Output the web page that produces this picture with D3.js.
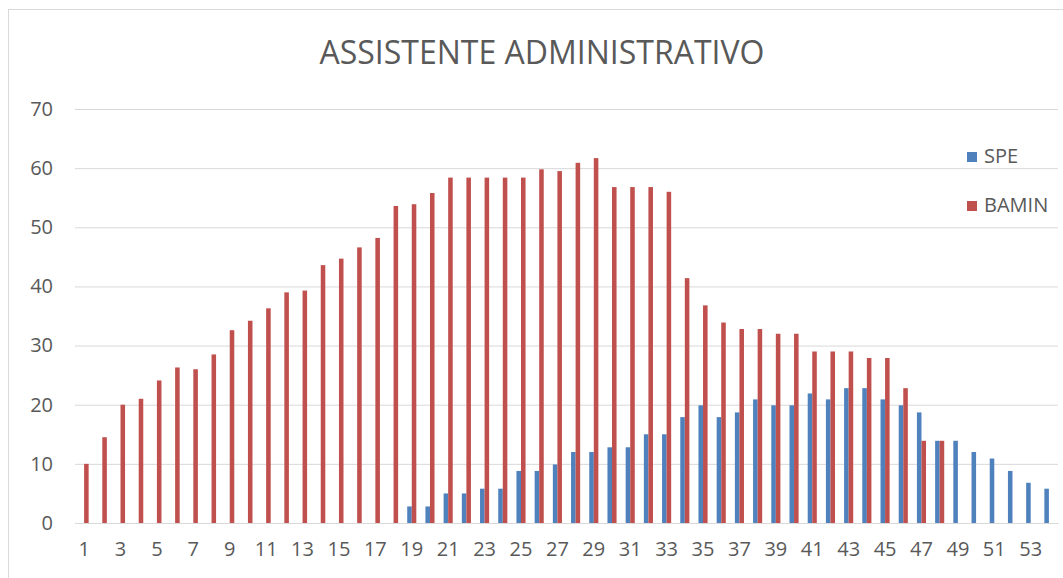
<!DOCTYPE html>
<html>
<head>
	<meta charset="utf-8">
	<title>ASSISTENTE ADMINISTRATIVO</title>
	<script src="https://cdn.jsdelivr.net/npm/d3@7"></script>
</head>
<style type="text/css">
	body {margin:0; background:#fff;}
	text {font-family:"Open Sans", sans-serif; fill:#595959;}
</style>
<body>
</body>
</html>
<script type="text/javascript">
	var width = 1063, height = 578;
	var margin = {left:75, right:5, top:109, bottom:55};

	// categories 1..54
	var categories = [1,2,3,4,5,6,7,8,9,10,11,12,13,14,15,16,17,18,19,20,21,22,23,24,25,26,27,
		28,29,30,31,32,33,34,35,36,37,38,39,40,41,42,43,44,45,46,47,48,49,50,51,52,53,54];
	var spe = [0,0,0,0,0,0,0,0,0,0,0,0,0,0,0,0,0,0,2.8,2.8,5,5,5.8,5.8,8.8,8.8,9.9,12,12,12.8,12.8,15,15,
		17.9,19.9,17.9,18.7,20.9,19.9,19.9,21.9,20.9,22.8,22.8,20.9,19.9,18.7,13.9,13.9,12,10.9,8.8,6.8,5.8];
	var bamin = [10,14.5,20,21,24.1,26.3,26,28.5,32.6,34.2,36.3,39,39.3,43.6,44.7,46.6,48.2,53.6,53.9,55.8,
		58.4,58.4,58.4,58.4,58.4,59.8,59.5,60.9,61.7,56.8,56.8,56.8,56,41.4,36.8,33.9,32.8,32.8,32,32,
		29,29,29,27.9,27.9,22.8,13.9,13.9,0,0,0,0,0,0];
	var seriesNames = ["SPE", "BAMIN"];
	var colors = {"SPE":"#4f81bd", "BAMIN":"#c0504d"};
	var yTicks = [0,10,20,30,40,50,60,70];
	var xTicks = categories.filter(function(d){return d % 2 == 1;});

	var w = 1058 - margin.left;
	var h = 523 - margin.top;

	var svg = d3.select("body").append("svg").attr("width", width).attr("height", height);
	svg.append("rect").attr("x", 8.5).attr("y", 9.5).attr("width", 1070).attr("height", 600)
		.attr("fill", "#fff").attr("stroke", "#d9d9d9");

	svg.append("text").attr("x", 542).attr("y", 64).attr("text-anchor", "middle")
		.style("font-size", "32px").text("ASSISTENTE ADMINISTRATIVO");

	var x = d3.scaleBand().domain(categories).range([0, w]).paddingInner(0.5).paddingOuter(0.25);
	var xs = d3.scaleBand().domain(seriesNames).range([0, x.bandwidth()]);
	var y = d3.scaleLinear().domain([0, 70]).range([h, 0]);

	var g = svg.append("g").attr("transform", "translate(" + margin.left + "," + margin.top + ")");

	var gy = g.append("g").call(d3.axisLeft(y).tickValues(yTicks).tickSize(-w).tickPadding(22));
	gy.select(".domain").remove();
	gy.selectAll(".tick line").attr("stroke", "#d9d9d9");
	gy.selectAll(".tick text").style("font-size", "20px").attr("fill", "#595959");

	var rows = categories.map(function(c, i){return {c:c, SPE:spe[i], BAMIN:bamin[i]};});
	var grp = g.selectAll(".cat").data(rows).enter().append("g")
		.attr("transform", function(d){return "translate(" + x(d.c) + ",0)";});
	grp.selectAll("rect").data(function(d){return seriesNames.map(function(s){return {s:s, v:d[s]};});})
		.enter().append("rect")
		.attr("x", function(d){return xs(d.s);})
		.attr("width", xs.bandwidth())
		.attr("y", function(d){return y(d.v);})
		.attr("height", function(d){return h - y(d.v);})
		.attr("fill", function(d){return colors[d.s];});

	var gx = g.append("g").attr("transform", "translate(0," + h + ")")
		.call(d3.axisBottom(x).tickValues(xTicks).tickSize(0).tickPadding(19));
	gx.select(".domain").attr("stroke", "#d9d9d9");
	gx.selectAll(".tick text").style("font-size", "20px").attr("fill", "#595959");

	var legend = svg.selectAll(".legend").data(seriesNames).enter().append("g")
		.attr("transform", function(d, i){return "translate(967," + (152 + i * 49) + ")";});
	legend.append("rect").attr("width", 10).attr("height", 10).attr("fill", function(d){return colors[d];});
	legend.append("text").attr("x", 17).attr("y", 11).style("font-size", "20px").text(function(d){return d;});
</script>
